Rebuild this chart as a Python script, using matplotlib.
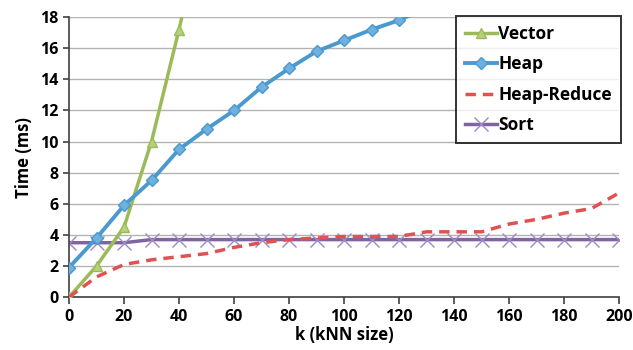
import matplotlib
matplotlib.use("Agg")
import matplotlib.pyplot as plt

# Data
k_vals = [0, 10, 20, 30, 40, 50, 60, 70, 80, 90, 100, 110, 120, 130, 140, 150,
          160, 170, 180, 190, 200]
vector_k = [0, 10, 20, 30, 40, 50]
vector_ms = [0.0, 2.0, 4.5, 10.0, 17.2, 25.0]
heap_ms = [1.9, 3.8, 5.9, 7.5, 9.5, 10.8, 12.0, 13.5, 14.7, 15.8, 16.5, 17.2,
           17.8, 18.6, 19.3, 20.0, 20.7, 21.3, 22.0, 22.6, 23.2]
heap_reduce_ms = [0.0, 1.3, 2.1, 2.4, 2.6, 2.8, 3.2, 3.5, 3.7, 3.8, 3.9, 3.9,
                  3.9, 4.2, 4.2, 4.2, 4.7, 5.0, 5.4, 5.7, 6.7]
sort_ms = [3.5, 3.5, 3.5, 3.7, 3.7, 3.7, 3.7, 3.7, 3.7, 3.7, 3.7, 3.7, 3.7,
           3.7, 3.7, 3.7, 3.7, 3.7, 3.7, 3.7, 3.7]

GREEN = "#9BBB59"
BLUE = "#4A9AD0"
RED = "#E05252"
PURPLE = "#8064A2"

plt.rcParams["font.family"] = ["Open Sans", "DejaVu Sans"]
plt.rcParams["font.weight"] = "bold"

fig = plt.figure(figsize=(6.33, 3.5), dpi=100)
ax = fig.add_axes([0.109, 0.151, 0.869, 0.80])

ax.plot(vector_k, vector_ms, color=GREEN, lw=2.5, marker="^", ms=7,
        mfc="#B5D27A", mec=GREEN, label="Vector", zorder=3)
ax.plot(k_vals, heap_ms, color=BLUE, lw=2.8, marker="D", ms=6,
        mfc="#6FB0DF", mec=BLUE, label="Heap", zorder=4)
ax.plot(k_vals, heap_reduce_ms, color=RED, lw=2.5, ls=(0, (3, 2)),
        label="Heap-Reduce", zorder=3)
ax.plot(k_vals, sort_ms, color=PURPLE, lw=2.5, marker="x", ms=10, mew=1.0,
        mec="#9C8AC4", label="Sort", zorder=2)

ax.set_xlim(0, 200)
ax.set_ylim(0, 18)
ax.set_xticks(range(0, 201, 20))
ax.set_yticks(range(0, 19, 2))
ax.yaxis.grid(True, color="#B3B3B3", lw=1)
ax.set_axisbelow(True)
for s in ("top", "right"):
    ax.spines[s].set_visible(False)
for s in ("left", "bottom"):
    ax.spines[s].set_color("#404040")
    ax.spines[s].set_linewidth(1.2)
ax.tick_params(axis="both", labelsize=11.5, length=5, color="#404040", width=1.2)
ax.tick_params(axis="y", length=4)
for lbl in ax.get_xticklabels() + ax.get_yticklabels():
    lbl.set_fontweight("bold")

ax.set_xlabel("k (kNN size)", fontsize=12, fontweight="bold", labelpad=1)
ax.set_ylabel("Time (ms)", fontsize=12, fontweight="bold", labelpad=5)

leg = ax.legend(loc="upper right", bbox_to_anchor=(1.003, 1.003), fontsize=12.5,
                frameon=True, fancybox=False, edgecolor="black",
                handlelength=1.85, handletextpad=0.1, borderpad=0.5,
                labelspacing=0.72, borderaxespad=0)
leg.get_frame().set_linewidth(1.4)
for t in leg.get_texts():
    t.set_fontweight("bold")

fig.savefig("out.png", dpi=100)
